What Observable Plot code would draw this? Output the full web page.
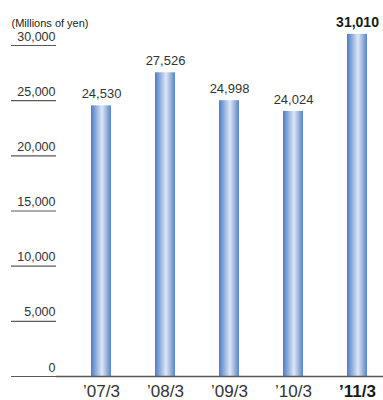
<!DOCTYPE html>
<html>
<head>
<meta charset="utf-8">
<script src="https://cdn.jsdelivr.net/npm/d3@7"></script>
<script src="https://cdn.jsdelivr.net/npm/@observablehq/plot@0.6"></script>
<style>
  html, body { margin: 0; padding: 0; background: #fff; }
  svg { display: block; }
</style>
</head>
<body>
<div id="chart"></div>
<script>
const periods = ["’07/3", "’08/3", "’09/3", "’10/3", "’11/3"];
const values = [24530, 27526, 24998, 24024, 31010];
const highlight = [false, false, false, false, true];
const yTicks = [0, 5000, 10000, 15000, 20000, 25000, 30000];
const unitLabel = "(Millions of yen)";

const data = periods.map((p, i) => ({period: p, value: values[i], bold: highlight[i]}));
const fmt = d3.format(",");
const font = "'Liberation Sans', Arial, Helvetica, sans-serif";

const defs = () => {
  const d = d3.create("svg:defs");
  const g = d.append("linearGradient").attr("id", "barGrad")
    .attr("x1", 0).attr("x2", 1).attr("y1", 0).attr("y2", 0);
  g.append("stop").attr("offset", "0%").attr("stop-color", "#4a7cc6");
  g.append("stop").attr("offset", "55%").attr("stop-color", "#dfe7f6");
  g.append("stop").attr("offset", "100%").attr("stop-color", "#5584cb");
  return d.node();
};

const chart = Plot.plot({
  width: 383,
  height: 400,
  marginLeft: 56,
  marginRight: 0,
  marginTop: 45,
  marginBottom: 24,
  style: {fontFamily: font, background: "#fff", overflow: "visible"},
  x: {domain: periods, range: [69, 389], paddingInner: 0.6875, paddingOuter: 0.34375, axis: null},
  y: {domain: [0, 30000], ticks: yTicks, axis: null},
  marks: [
    defs,
    Plot.axisY(yTicks, {
      anchor: "left",
      tickSize: 45,
      tickFormat: () => "",
      stroke: "#5a5a5a",
      strokeWidth: 1.2,
      label: null
    }),
    Plot.axisY(yTicks, {
      anchor: "left",
      tickSize: 0,
      tickPadding: 1,
      tickFormat: fmt,
      fontSize: 12.5,
      fill: "#333",
      textAnchor: "end",
      dy: -9,
      label: null
    }),
    Plot.barY(data, {x: "period", y: "value", fill: "url(#barGrad)"}),
    Plot.ruleY([0], {stroke: "#5a5a5a", strokeWidth: 1.4}),
    Plot.text(data.filter(d => !d.bold), {x: "period", y: "value", text: d => fmt(d.value), dy: -12, fontSize: 13, fill: "#333"}),
    Plot.text(data.filter(d => d.bold), {x: "period", y: "value", text: d => fmt(d.value), dy: -12, fontSize: 14, fontWeight: "bold", fill: "#1a1a1a"}),
    Plot.text(data.filter(d => !d.bold), {x: "period", y: () => 0, text: "period", dy: 15.5, fontSize: 17, fill: "#333"}),
    Plot.text(data.filter(d => d.bold), {x: "period", y: () => 0, text: "period", dy: 15.5, fontSize: 17, fontWeight: "bold", fill: "#1a1a1a"}),
    Plot.text([unitLabel], {frameAnchor: "top-left", dx: -45, dy: -26, textAnchor: "start", fontSize: 11, fill: "#222"})
  ]
});
document.getElementById("chart").appendChild(chart);
</script>
</body>
</html>
